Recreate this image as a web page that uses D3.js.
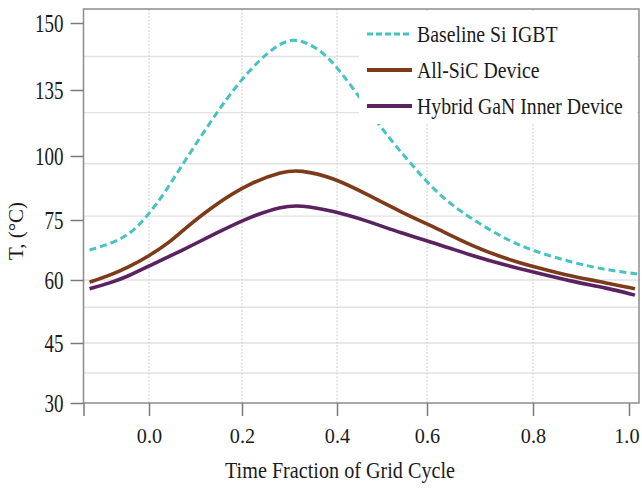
<!DOCTYPE html>
<html><head><meta charset="utf-8">
<script src="https://cdn.jsdelivr.net/npm/d3@7/dist/d3.min.js"></script>
<style>body{margin:0;background:#fff}svg{display:block}
svg text{font-family:"Liberation Serif","Tinos","Times New Roman","DejaVu Serif",serif !important;}</style>
</head><body><svg id="c" width="642" height="489"></svg>
<script>
// ---- data ----
const xTickValues = [-0.14, 0, 0.2, 0.4, 0.6, 0.8, 1.0];
const xTickLabels = ["", "0.0", "0.2", "0.4", "0.6", "0.8", "1.0"];
const yTickValues = [30, 45, 60, 75, 100, 135, 150];
const yTickLabels = ["30", "45", "60", "75", "100", "135", "150"];
const xGridValues = [0, 0.2, 0.4, 0.6, 0.8];
const yGridValues = [142.5, 123, 97, 76.5, 60, 53.5, 45, 37.5];

const seriesNames = ["Baseline Si IGBT", "All-SiC Device", "Hybrid GaN Inner Device"];

const timeBaseline = [-0.127, -0.07, -0.03, 0.0, 0.03, 0.073, 0.153, 0.211, 0.265, 0.307, 0.349, 0.385, 0.444, 0.496, 0.562, 0.625, 0.687, 0.751, 0.8, 0.883, 0.954, 1.017];
const tempBaseline = [67.5, 69.5, 72.5, 77.5, 84.5, 97, 126, 139, 144.5, 146.8, 145, 142.2, 133.4, 115.4, 97.3, 84, 75, 70, 67.3, 64.3, 62.5, 61.5];

const timeSiC = [-0.127, -0.083, -0.047, 0, 0.045, 0.073, 0.146, 0.217, 0.286, 0.322, 0.392, 0.467, 0.54, 0.625, 0.687, 0.751, 0.8, 0.883, 0.954, 1.0125];
const tempSiC = [59.5, 61.2, 63, 66, 69.5, 72.5, 81.6, 89.5, 94, 94.6, 91.6, 85, 78.3, 72.5, 68.4, 65.2, 63.4, 60.8, 59.3, 57.9];

const timeGaN = [-0.127, -0.083, -0.047, 0, 0.073, 0.146, 0.217, 0.286, 0.322, 0.392, 0.467, 0.54, 0.625, 0.687, 0.751, 0.8, 0.883, 0.954, 1.0125];
const tempGaN = [57.9, 59.3, 60.8, 63.5, 67.5, 71.8, 76.3, 80.4, 80.8, 78.6, 74.8, 71.8, 68.8, 66, 63.6, 62, 59.6, 58.1, 56.4];

// ---- styles ----
const colors = ["#45c2c4", "#7e3b1a", "#5b2260"];
const FONT = "Liberation Serif, Tinos, Times New Roman, DejaVu Serif, serif";

const svg = d3.select("#c");
svg.append("rect").attr("width", 642).attr("height", 489).attr("fill", "#fff");

const x = d3.scaleLinear()
  .domain([-0.14, 0, 0.2, 0.4, 0.6, 0.8, 1.0, 1.023])
  .range([83.5, 149, 242, 337, 427, 533, 629, 640]);
const y = d3.scaleLinear()
  .domain([30, 45, 60, 75, 100, 135, 150, 153.1])
  .range([403, 343, 280, 220, 156, 90, 23, 9]);

const X0 = x(-0.14), X1 = x(1.023), Y0 = y(30), Y1 = y(153.1);

// grid
const grid = svg.append("g");
grid.selectAll("line.h").data(yGridValues).join("line")
  .attr("x1", X0).attr("x2", X1)
  .attr("y1", d => y(d)).attr("y2", d => y(d))
  .attr("stroke", "#e2e2e2").attr("stroke-width", 1.4);
grid.selectAll("line.v").data(xGridValues).join("line")
  .attr("x1", d => x(d)).attr("x2", d => x(d))
  .attr("y1", Y1).attr("y2", Y0)
  .attr("stroke", "#cfcfcf").attr("stroke-width", 1).attr("stroke-dasharray", "2,1.5");

// series
const series = [
  { name: seriesNames[0], t: timeBaseline, v: tempBaseline },
  { name: seriesNames[1], t: timeSiC, v: tempSiC },
  { name: seriesNames[2], t: timeGaN, v: tempGaN }
];
const line = d3.line().x(d => x(d[0])).y(d => y(d[1])).curve(d3.curveBasis);
series.forEach((s, i) => {
  const pts = s.t.map((t, j) => [t, s.v[j]]);
  const p = svg.append("path").attr("d", line(pts)).attr("fill", "none")
    .attr("stroke", colors[i]).attr("stroke-linecap", "butt").attr("stroke-linejoin", "round");
  if (i === 0) p.attr("stroke-width", 3).attr("stroke-dasharray", "7,4");
  else p.attr("stroke-width", 3.6);
});

// legend
const lg = svg.append("g");
lg.append("rect").attr("x", 359).attr("y", 12).attr("width", 278).attr("height", 112).attr("fill", "#fff");
seriesNames.forEach((n, i) => {
  const ly = 34 + i * 36;
  const l = lg.append("line").attr("x1", 367).attr("x2", 412).attr("y1", ly).attr("y2", ly)
    .attr("stroke", colors[i]);
  if (i === 0) l.attr("stroke-width", 3).attr("stroke-dasharray", "6,3");
  else l.attr("stroke-width", 4);
  lg.append("g").attr("transform", `translate(417,${ly}) scale(0.86,1)`)
    .append("text").attr("x", 0).attr("y", 0).attr("dy", "0.34em")
    .attr("font-family", FONT).attr("font-size", 23).attr("fill", "#1a1a1a")
    .text(n);
});

// frame
svg.append("rect").attr("x", X0).attr("y", Y1).attr("width", X1 - X0 - 1).attr("height", Y0 - Y1)
  .attr("fill", "none").attr("stroke", "#8d8d8d").attr("stroke-width", 1.5);

function squeeze(sel, ratio) {
  sel.each(function () {
    const w = this.getComputedTextLength();
    if (w > 0) d3.select(this).attr("textLength", w * ratio).attr("lengthAdjust", "spacingAndGlyphs");
  });
}

// axes
const yAxis = svg.append("g").attr("transform", `translate(${X0},0)`)
  .call(d3.axisLeft(y).tickValues(yTickValues).tickFormat((d, i) => yTickLabels[i]).tickSize(13).tickPadding(7));
yAxis.attr("font-family", FONT);
yAxis.select(".domain").remove();
yAxis.selectAll(".tick line").attr("stroke", "#7a7a7a").attr("stroke-width", 1.5);
yAxis.selectAll(".tick text").attr("font-family", FONT).attr("font-size", 25).attr("fill", "#1a1a1a");
squeeze(yAxis.selectAll(".tick text"), 0.76);

const xAxis = svg.append("g").attr("transform", `translate(0,${Y0})`)
  .call(d3.axisBottom(x).tickValues(xTickValues).tickFormat((d, i) => xTickLabels[i]).tickSize(13).tickPadding(11));
xAxis.attr("font-family", FONT);
xAxis.select(".domain").remove();
xAxis.selectAll(".tick line").attr("stroke", "#7a7a7a").attr("stroke-width", 1.5);
xAxis.selectAll(".tick text").attr("font-family", FONT).attr("font-size", 22).attr("fill", "#1a1a1a");
squeeze(xAxis.selectAll(".tick text"), 0.92);
xAxis.selectAll(".tick text").filter((d, i) => i === xTickValues.length - 1).attr("text-anchor", "end").attr("x", 10);

// titles
svg.append("text").attr("x", 340).attr("y", 478).attr("text-anchor", "middle")
  .attr("font-family", FONT).attr("font-size", 24).attr("fill", "#1a1a1a")
  .attr("textLength", 230).attr("lengthAdjust", "spacingAndGlyphs")
  .text("Time Fraction of Grid Cycle");
svg.append("text").attr("transform", "translate(23,231) rotate(-90)").attr("text-anchor", "middle")
  .attr("font-family", FONT).attr("font-size", 21).attr("fill", "#1a1a1a")
  .text("T, (°C)");
</script></body></html>
